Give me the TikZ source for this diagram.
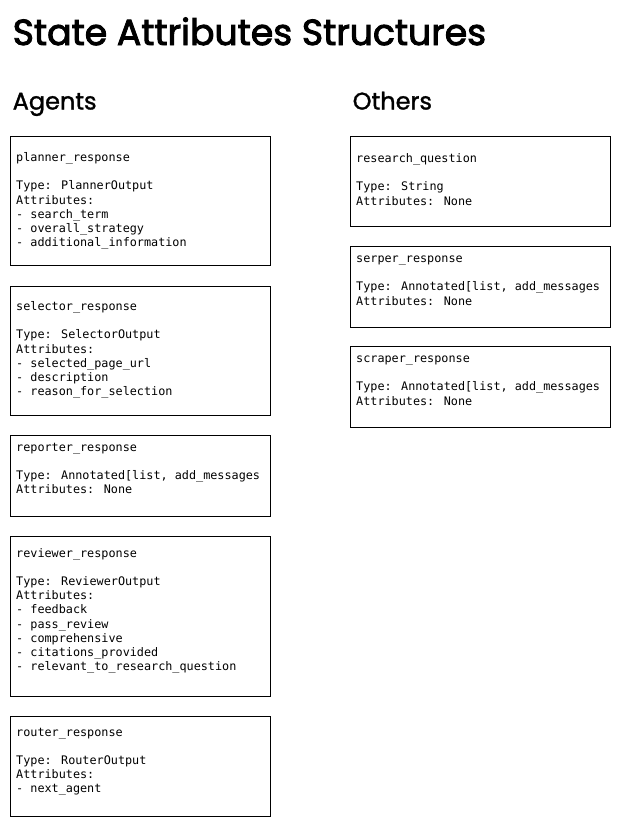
\documentclass[tikz,border=0pt]{standalone}
\usepackage{fontspec}
\newfontfamily\titlefont{Poppins}[FakeBold=2.6]
\newfontfamily\secfont{Poppins}[FakeBold=1.3]
\newfontfamily\monofont{DejaVu Sans Mono}
\begin{document}
\begin{tikzpicture}[x=1pt,y=-1pt,
  box/.style={draw=black,line width=0.9pt},
  info/.style={anchor=north west,align=left,inner sep=0pt,
    font=\monofont\fontsize{11.8}{14.2}\selectfont},
  htitle/.style={anchor=base west,inner sep=0pt,font=\titlefont\fontsize{36.2}{40}\selectfont},
  hsec/.style={anchor=base west,inner sep=0pt,font=\secfont\fontsize{24}{28}\selectfont}]
\useasboundingbox (0,0) rectangle (631,827);
\node[htitle] (title) at (12.5,45) {State Attributes Structures};
\node[hsec] (agents) at (12.5,109.5) {Agents};
\node[hsec] (others) at (352.5,109.5) {Others};
% left column
\draw[box] (10.5,136.5) rectangle (270.5,265.5);
\node[info] (planner) at (16,151.4) {\strut planner\_response\\ \\Type: PlannerOutput\\Attributes:\\- search\_term\\- overall\_strategy\\- additional\_information};
\draw[box] (10.5,286.5) rectangle (270.5,415.5);
\node[info] (selector) at (16,300.4) {\strut selector\_response\\ \\Type: SelectorOutput\\Attributes:\\- selected\_page\_url\\- description\\- reason\_for\_selection};
\draw[box] (10.5,435.5) rectangle (270.5,516);
\node[info] (reporter) at (16,440.9) {\strut reporter\_response\\ \\Type: Annotated[list, add\_messages\\Attributes: None};
\draw[box] (10.5,536.5) rectangle (270.5,696);
\node[info] (reviewer) at (16,546.9) {\strut reviewer\_response\\ \\Type: ReviewerOutput\\Attributes:\\- feedback\\- pass\_review\\- comprehensive\\- citations\_provided\\- relevant\_to\_research\_question};
\draw[box] (10.5,716.5) rectangle (270.5,816);
\node[info] (router) at (16,725.9) {\strut router\_response\\ \\Type: RouterOutput\\Attributes:\\- next\_agent};
% right column
\draw[box] (350.5,136.5) rectangle (610.5,226.5);
\node[info] (research) at (356,152.4) {\strut research\_question\\ \\Type: String\\Attributes: None};
\draw[box] (350.5,246.5) rectangle (610.5,327);
\node[info] (serper) at (356,252.4) {\strut serper\_response\\ \\Type: Annotated[list, add\_messages\\Attributes: None};
\draw[box] (350.5,346.5) rectangle (610.5,427);
\node[info] (scraper) at (356,352.4) {\strut scraper\_response\\ \\Type: Annotated[list, add\_messages\\Attributes: None};
\end{tikzpicture}
\end{document}
